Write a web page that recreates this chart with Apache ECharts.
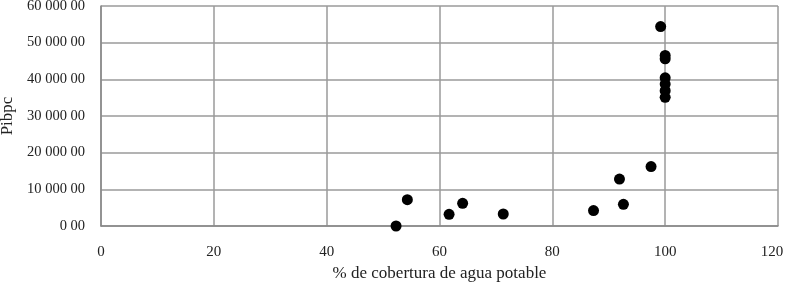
<!DOCTYPE html>
<html>
<head>
<meta charset="utf-8">
<script src="https://cdn.jsdelivr.net/npm/echarts@6/dist/echarts.min.js"></script>
<style>
html,body{margin:0;padding:0;background:#fff;}
#chart{width:788px;height:283px;}
</style>
</head>
<body>
<div id="chart"></div>
<script>
const coberturaX = [52.3, 54.3, 61.7, 64.1, 71.3, 87.3, 91.9, 92.6, 97.5, 99.2, 100.0, 100.0, 100.0, 100.0, 100.0, 100.0];
const pibpcY = [0, 7170, 3190, 6190, 3270, 4200, 12800, 5900, 16200, 54400, 46500, 45600, 40400, 38700, 36900, 35100];
const xTicks = [0, 20, 40, 60, 80, 100, 120];
const yTicks = [0, 10000, 20000, 30000, 40000, 50000, 60000];

const points = coberturaX.map((x, i) => [x, pibpcY[i]]);
const fmtY = v => {
  const s = String(Math.round(v)).replace(/\B(?=(\d{3})+(?!\d))/g, ' ');
  return s + ' 00';
};
const font = '"Liberation Serif", "DejaVu Serif", serif';
const xMax = xTicks[xTicks.length - 1];

const chart = echarts.init(document.getElementById('chart'));
chart.setOption({
  animation: false,
  backgroundColor: '#fff',
  grid: { left: 101, top: 6, right: 10, bottom: 57, containLabel: false, outerBoundsMode: 'none' },
  xAxis: {
    type: 'value', min: xTicks[0], max: xMax, interval: 20,
    name: '% de cobertura de agua potable', nameLocation: 'middle', nameGap: 36,
    nameTextStyle: { fontFamily: font, fontSize: 17, color: '#222' },
    axisLine: { lineStyle: { color: '#888', width: 1.5 } },
    axisTick: { show: false },
    axisLabel: {
      fontFamily: font, fontSize: 15, color: '#222', margin: 19,
      formatter: v => v === xMax ? '{last|' + v + '}' : String(v),
      rich: { last: { fontFamily: font, fontSize: 15, color: '#222', padding: [0, 12, 0, 0] } }
    },
    splitLine: { show: true, lineStyle: { color: '#9a9a9a', width: 1.5 } }
  },
  yAxis: {
    type: 'value', min: yTicks[0], max: yTicks[yTicks.length - 1], interval: 10000,
    name: 'Pibpc', nameLocation: 'middle', nameGap: 85, nameRotate: 90,
    nameTextStyle: { fontFamily: font, fontSize: 17, color: '#222' },
    axisLine: { show: true, lineStyle: { color: '#888', width: 1.5 } },
    axisTick: { show: false },
    axisLabel: { fontFamily: font, fontSize: 14.5, color: '#222', margin: 16, formatter: fmtY },
    splitLine: { show: true, lineStyle: { color: '#9a9a9a', width: 1.5 } }
  },
  series: [{
    type: 'scatter',
    data: points,
    symbol: 'circle',
    symbolSize: 11,
    itemStyle: { color: '#000', opacity: 1 }
  }]
});
</script>
</body>
</html>
